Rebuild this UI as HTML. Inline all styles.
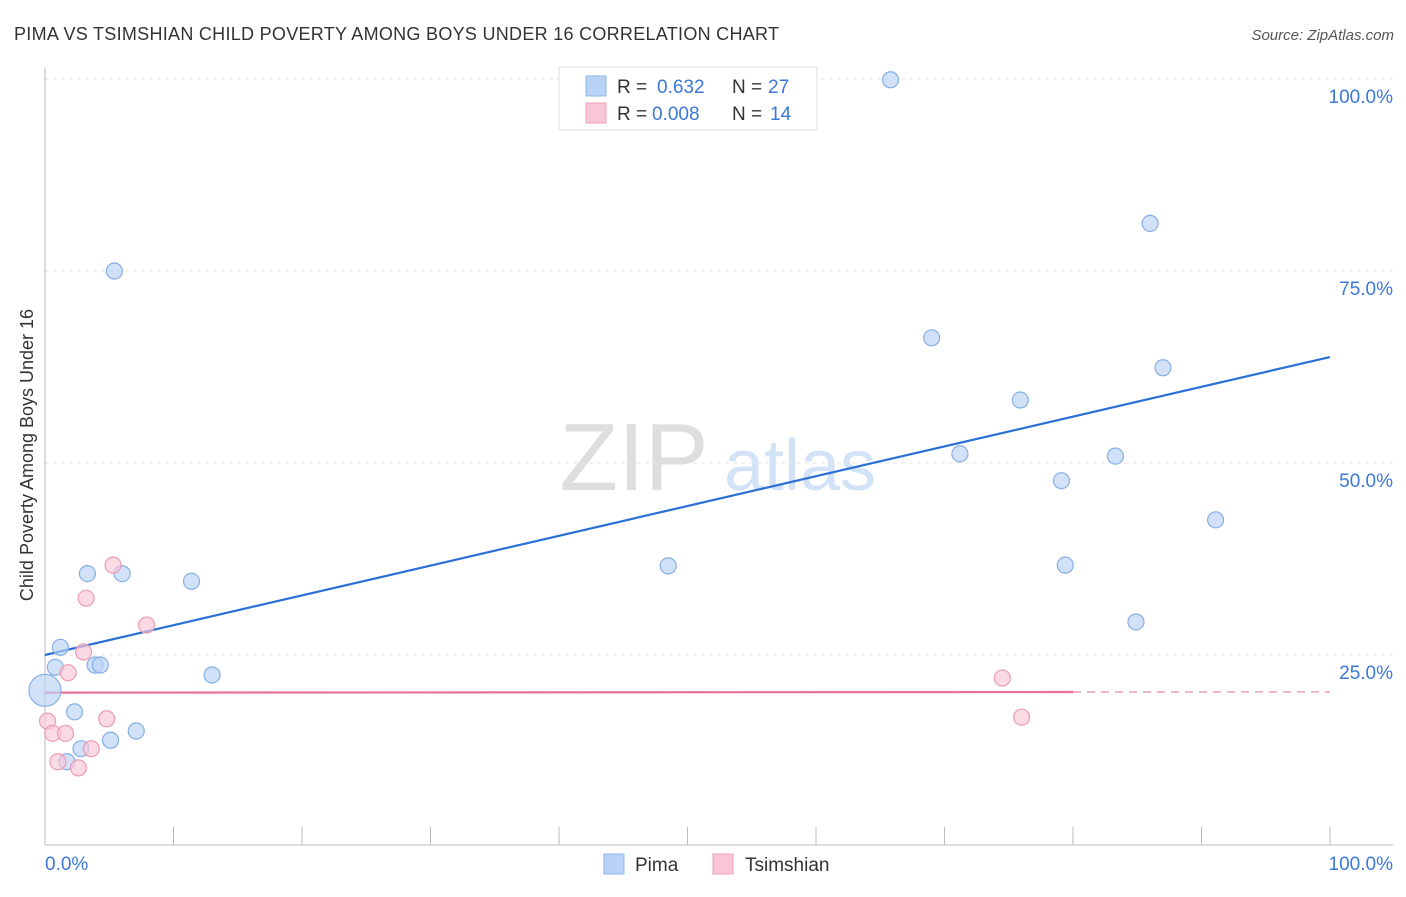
<!DOCTYPE html>
<html><head><meta charset="utf-8"><style>
body{margin:0;background:#fff;font-family:"Liberation Sans",sans-serif;}
svg text{font-family:"Liberation Sans",sans-serif;}
</style></head><body>
<svg width="1406" height="892" xmlns="http://www.w3.org/2000/svg">
<text x="14" y="40" font-size="18" fill="#333" textLength="765">PIMA VS TSIMSHIAN CHILD POVERTY AMONG BOYS UNDER 16 CORRELATION CHART</text>
<text x="1394" y="40" font-size="15" fill="#555" text-anchor="end" font-style="italic">Source: ZipAtlas.com</text>
<text x="634" y="490" font-size="96" fill="#dedede" text-anchor="middle" font-family="Liberation Serif">ZIP</text>
<text x="800" y="490" font-size="72" fill="#d3e3f7" text-anchor="middle">atlas</text>
<g id="grid"></g>
<g id="axes"></g>
<g id="lines"></g>
<g id="pts"></g>
<text x="-455" y="33" transform="rotate(-90)" font-size="18" fill="#333" text-anchor="middle">Child Poverty Among Boys Under 16</text>
<text x="45" y="870" font-size="19" fill="#3b78d8">0.0%</text>
<text x="1393" y="870" font-size="19" fill="#3b78d8" text-anchor="end">100.0%</text>
<g>
<rect x="559" y="67" width="258" height="63" fill="#fff" stroke="#ddd"/>
<rect x="586" y="76" width="20" height="20" fill="#b8d3f5" stroke="#8fb4e8"/>
<text x="617" y="93" font-size="19" fill="#333">R = </text><text x="657" y="93" font-size="19" fill="#3b78d8">0.632</text>
<text x="732" y="93" font-size="19" fill="#333">N = </text><text x="768" y="93" font-size="19" fill="#3b78d8">27</text>
<rect x="586" y="103" width="20" height="20" fill="#f9c6d5" stroke="#eea0b8"/>
<text x="617" y="120" font-size="19" fill="#333">R = </text><text x="652" y="120" font-size="19" fill="#3b78d8">0.008</text>
<text x="732" y="120" font-size="19" fill="#333">N = </text><text x="770" y="120" font-size="19" fill="#3b78d8">14</text>
</g>
<g>
<rect x="604" y="854" width="20" height="20" fill="#b8d3f5" stroke="#8fb4e8"/>
<text x="635" y="871" font-size="19" fill="#333">Pima</text>
<rect x="713" y="854" width="20" height="20" fill="#f9c6d5" stroke="#eea0b8"/>
<text x="745" y="871" font-size="19" fill="#333">Tsimshian</text>
</g>
</svg>
<script>
const yTicks=[25,50,75,100];
const yTickLabels=["25.0%","50.0%","75.0%","100.0%"];
const xTicks=[0,10,20,30,40,50,60,70,80,90,100];
const pimaX=[65.8,86.0,5.4,69.0,87.0,75.9,71.2,83.3,79.1,91.1,48.5,79.4,3.3,6.0,11.4,84.9,1.2,0.8,3.9,4.3,13.0,0,2.3,7.1,5.1,2.8,1.7];
const pimaY=[99.9,81.2,75.0,66.3,62.4,58.2,51.2,50.9,47.7,42.6,36.6,36.7,35.6,35.6,34.6,29.3,26.0,23.4,23.7,23.7,22.4,20.4,17.6,15.1,13.9,12.8,11.1];
const pimaBig=[0,0,0,0,0,0,0,0,0,0,0,0,0,0,0,0,0,0,0,0,0,1,0,0,0,0,0];
const tsX=[5.3,3.2,7.9,3.0,1.8,74.5,0.2,4.8,76.0,0.6,1.6,3.6,1.0,2.6];
const tsY=[36.7,32.4,28.9,25.4,22.7,22.0,16.4,16.7,16.9,14.8,14.8,12.8,11.1,10.3];
const pimaTrend=[25.0,63.8];
const tsTrend=[20.1,20.2];
const tsSolidEnd=80;
const X=v=>45+v*12.85, Y=v=>847-v*7.68;
const NS="http://www.w3.org/2000/svg";
function mk(tag,attrs,parent){const e=document.createElementNS(NS,tag);for(const k in attrs)e.setAttribute(k,attrs[k]);document.getElementById(parent).appendChild(e);return e;}
yTicks.forEach((t,i)=>{
 const l=mk('line',{x1:45,x2:1393,y1:Y(t),y2:Y(t),stroke:'#e3e3e3','stroke-dasharray':'4,4'},'grid');
 
 
 const tx=mk('text',{x:1393,y:Y(t)+24,'font-size':19,fill:'#3b78d8','text-anchor':'end'},'grid');
 tx.textContent=yTickLabels[i];
 
 
});
let a=mk('line',{x1:45,x2:45,y1:68,y2:845,stroke:'#bbb'},'axes');


a=mk('line',{x1:45,x2:1393,y1:845,y2:845,stroke:'#bbb'},'axes');


xTicks.forEach(t=>{const l=mk('line',{x1:X(t),x2:X(t),y1:827,y2:845,stroke:'#bbb'},'axes');
 
 });
function dot(x,y,r,f,s){const c=mk('circle',{cx:X(x),cy:Y(y),r:r,fill:f,'fill-opacity':0.65,stroke:s,'stroke-width':1.2},'pts');return c;}
pimaX.forEach((x,i)=>{const c=dot(x,pimaY[i],pimaBig[i]?16:8,'#b8d3f5','#86aee6');
 
 });
tsX.forEach((x,i)=>{const c=dot(x,tsY[i],8,'#f9c6d5','#eb9bb5');
 
 });
let l=mk('line',{x1:X(0),y1:Y(pimaTrend[0]),x2:X(100),y2:Y(pimaTrend[1]),stroke:'#2a6fd6','stroke-width':2.2},'lines');


const tsAt=v=>tsTrend[0]+(tsTrend[1]-tsTrend[0])*v/100;
l=mk('line',{x1:X(0),y1:Y(tsTrend[0]),x2:X(tsSolidEnd),y2:Y(tsAt(tsSolidEnd)),stroke:'#e8719a','stroke-width':2.2},'lines');


l=mk('line',{x1:X(tsSolidEnd),y1:Y(tsAt(tsSolidEnd)),x2:X(100),y2:Y(tsTrend[1]),stroke:'#e8719a','stroke-width':1.5,'stroke-dasharray':'8,6','stroke-opacity':0.7},'lines');


</script>
</body></html>
